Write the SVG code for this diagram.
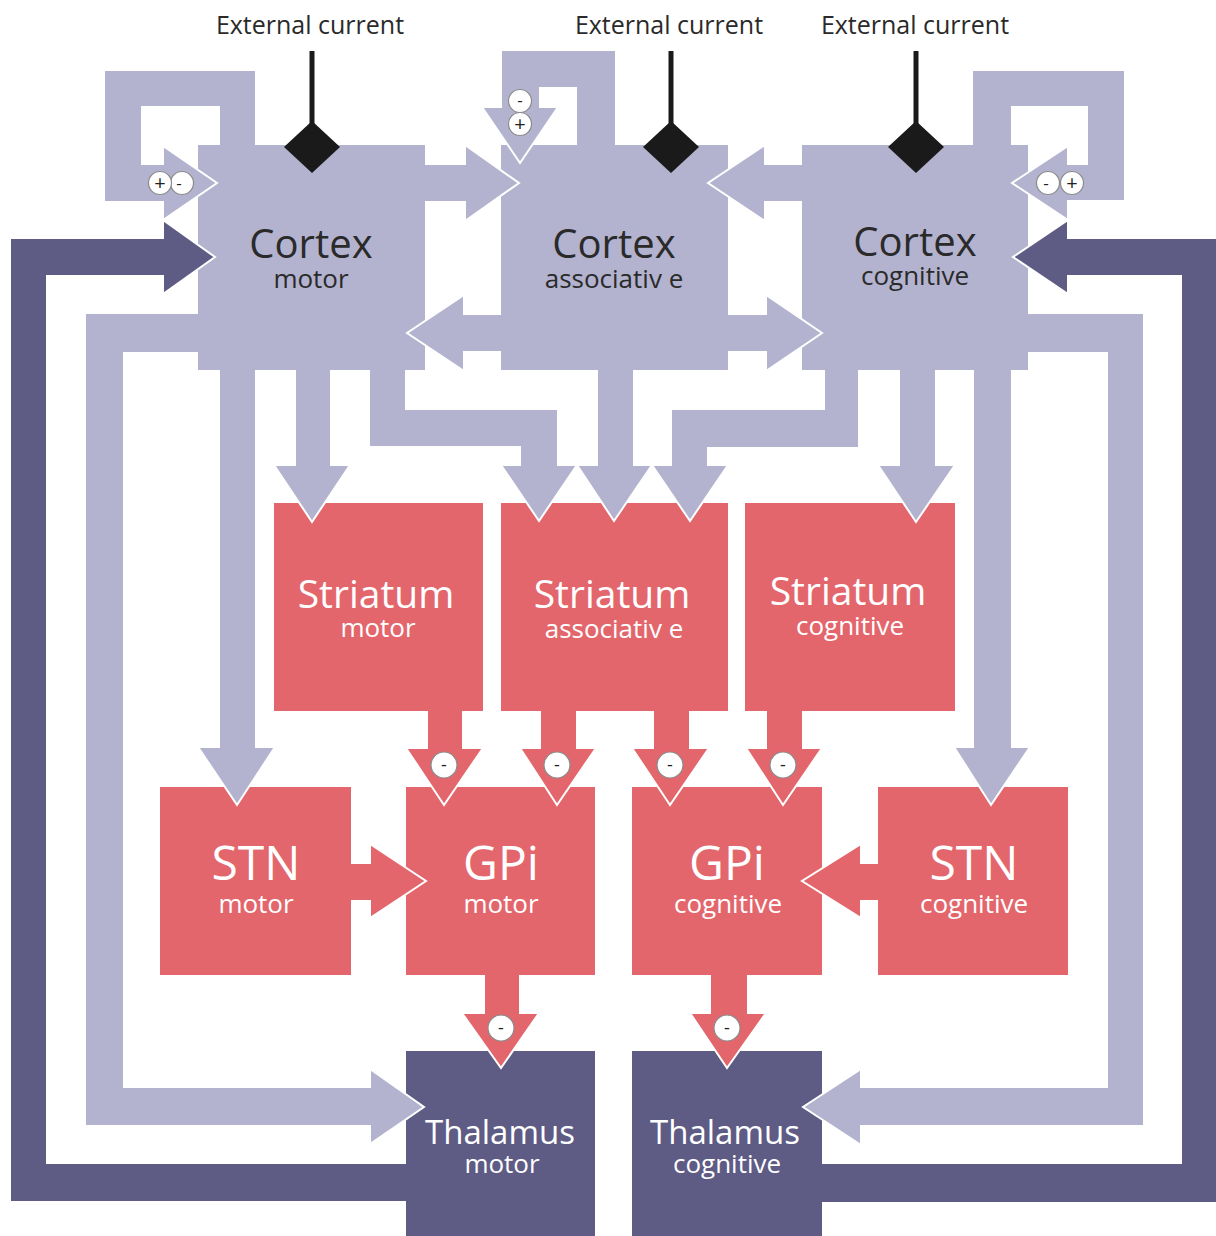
<svg xmlns="http://www.w3.org/2000/svg" width="1216" height="1236" viewBox="0 0 1216 1236">
<style>
.bg{fill:#ffffff}
.ctx{fill:#b3b3cf}
.red{fill:#e3666c}
.thal{fill:#5e5b85}
.aL{fill:#b3b3cf;stroke:#ffffff;stroke-width:2;stroke-linejoin:miter}
.aD{fill:#5e5b85;stroke:#ffffff;stroke-width:2;stroke-linejoin:miter}
.aR{fill:#e3666c;stroke:#ffffff;stroke-width:2;stroke-linejoin:miter}
.sig{fill:#ffffff;stroke:#8a8a8a;stroke-width:1.2}
.sigt{font-family:"Open Sans","Liberation Sans",sans-serif;fill:#222;text-anchor:middle}
.t1{font-family:"Open Sans","Liberation Sans",sans-serif;text-anchor:middle}
.dk{fill:#2a2a2a}
.wh{fill:#ffffff}
.ext{font-family:"Open Sans","Liberation Sans",sans-serif;font-size:25px;fill:#2a2a2a;text-anchor:middle}
.wire{stroke:#1a1a1a;stroke-width:5}
.dia{fill:#1a1a1a}
</style>
<rect class="bg" x="0" y="0" width="1216" height="1236"/>

<g id="cortex-motor">
<rect class="ctx" x="198" y="145" width="227" height="225"/>
<text class="t1 dk" x="311" y="258" font-size="40">Cortex</text>
<text class="t1 dk" x="311" y="288" font-size="26">motor</text>
</g>
<g id="cortex-associative">
<rect class="ctx" x="501" y="145" width="227" height="225"/>
<text class="t1 dk" x="614" y="258" font-size="40">Cortex</text>
<text class="t1 dk" x="614" y="288" font-size="26">associativ e</text>
</g>
<g id="cortex-cognitive">
<rect class="ctx" x="802" y="145" width="226" height="225"/>
<text class="t1 dk" x="915" y="256" font-size="40">Cortex</text>
<text class="t1 dk" x="915" y="285" font-size="26">cognitive</text>
</g>
<g id="striatum-motor">
<rect class="red" x="274" y="503" width="209" height="208"/>
<text class="t1 wh" x="376" y="608" font-size="39">Striatum</text>
<text class="t1 wh" x="378" y="637" font-size="26">motor</text>
</g>
<g id="striatum-associative">
<rect class="red" x="501" y="503" width="227" height="208"/>
<text class="t1 wh" x="612" y="608" font-size="39">Striatum</text>
<text class="t1 wh" x="614" y="638" font-size="26">associativ e</text>
</g>
<g id="striatum-cognitive">
<rect class="red" x="745" y="503" width="210" height="208"/>
<text class="t1 wh" x="848" y="605" font-size="39">Striatum</text>
<text class="t1 wh" x="850" y="635" font-size="26">cognitive</text>
</g>
<g id="stn-motor">
<rect class="red" x="160" y="787" width="191" height="188"/>
<text class="t1 wh" x="256" y="880" font-size="48">STN</text>
<text class="t1 wh" x="256" y="913" font-size="26">motor</text>
</g>
<g id="gpi-motor">
<rect class="red" x="406" y="787" width="189" height="188"/>
<text class="t1 wh" x="501" y="880" font-size="48">GPi</text>
<text class="t1 wh" x="501" y="913" font-size="26">motor</text>
</g>
<g id="gpi-cognitive">
<rect class="red" x="632" y="787" width="190" height="188"/>
<text class="t1 wh" x="727" y="880" font-size="48">GPi</text>
<text class="t1 wh" x="728" y="913" font-size="26">cognitive</text>
</g>
<g id="stn-cognitive">
<rect class="red" x="878" y="787" width="190" height="188"/>
<text class="t1 wh" x="974" y="880" font-size="48">STN</text>
<text class="t1 wh" x="974" y="913" font-size="26">cognitive</text>
</g>
<g id="thalamus-motor">
<rect class="thal" x="406" y="1051" width="189" height="185"/>
<text class="t1 wh" x="500" y="1144" font-size="33">Thalamus</text>
<text class="t1 wh" x="502" y="1173" font-size="26">motor</text>
</g>
<g id="thalamus-cognitive">
<rect class="thal" x="632" y="1051" width="190" height="185"/>
<text class="t1 wh" x="725" y="1144" font-size="33">Thalamus</text>
<text class="t1 wh" x="727" y="1173" font-size="26">cognitive</text>
</g>

<g id="connectors">
<!-- self loops -->
<path class="aL" d="M219,145 L219,107 L142,107 L142,164 L163,164 L163,146 L217,183 L163,220 L163,202 L104,202 L104,70 L256,70 L256,145"/>
<path class="aL" d="M576,145 L576,88 L540,88 L540,107 L558,107 L520,163 L482,107 L501,107 L501,50 L616,50 L616,145"/>
<path class="aL" d="M1012,145 L1012,107 L1087,107 L1087,164 L1068,164 L1068,146 L1012,183 L1068,220 L1068,201 L1125,201 L1125,70 L972,70 L972,145"/>
<!-- cortex to cortex -->
<path class="aL" d="M425,164 L465,164 L465,145 L519,183 L465,221 L465,202 L425,202"/>
<path class="aL" d="M802,164 L765,164 L765,145 L708,183 L765,221 L765,202 L802,202"/>
<path class="aL" d="M501,314 L464,314 L464,295 L407,333 L464,371 L464,352 L501,352"/>
<path class="aL" d="M728,314 L766,314 L766,295 L822,333 L766,371 L766,352 L728,352"/>
<!-- thalamus to cortex -->
<path class="aD" d="M406,1163 L47,1163 L47,276 L163,276 L163,294 L215,257 L163,220 L163,238 L10,238 L10,1202 L406,1202"/>
<path class="aD" d="M822,1163 L1181,1163 L1181,276 L1068,276 L1068,294 L1013,257 L1068,220 L1068,238 L1222,238 L1222,1203 L822,1203"/>
<!-- cortex to thalamus -->
<path class="aL" d="M198,313 L85,313 L85,1126 L370,1126 L370,1144 L424,1107 L370,1069 L370,1087 L124,1087 L124,353 L198,353"/>
<path class="aL" d="M1028,313 L1144,313 L1144,1126 L861,1126 L861,1145 L803,1107 L861,1069 L861,1087 L1107,1087 L1107,353 L1028,353"/>
<!-- cortex to STN / striatum -->
<path class="aL" d="M219,370 L219,747 L198,747 L237,805 L275,747 L256,747 L256,370"/>
<path class="aL" d="M295,370 L295,465 L274,465 L312,522 L350,465 L331,465 L331,370"/>
<path class="aL" d="M369,370 L369,447 L520,447 L520,465 L501,465 L539,521 L577,465 L558,465 L558,409 L406,409 L406,370"/>
<path class="aL" d="M597,370 L597,465 L577,465 L614,521 L652,465 L634,465 L634,370"/>
<path class="aL" d="M859,370 L859,448 L708,448 L708,465 L728,465 L690,521 L652,465 L671,465 L671,409 L824,409 L824,370"/>
<path class="aL" d="M899,370 L899,465 L878,465 L916,522 L955,465 L936,465 L936,370"/>
<path class="aL" d="M973,370 L973,747 L954,747 L991,805 L1030,747 L1012,747 L1012,370"/>
<!-- striatum to GPi -->
<path class="aR" d="M427,711 L427,748 L406,748 L444,805 L483,748 L463,748 L463,711"/>
<path class="aR" d="M540,711 L540,748 L520,748 L557,805 L596,748 L577,748 L577,711"/>
<path class="aR" d="M653,711 L653,748 L632,748 L670,805 L709,748 L690,748 L690,711"/>
<path class="aR" d="M766,711 L766,748 L746,748 L783,805 L822,748 L803,748 L803,711"/>
<!-- STN to GPi -->
<path class="aR" d="M351,863 L370,863 L370,844 L426,881 L370,918 L370,901 L351,901"/>
<path class="aR" d="M878,863 L861,863 L861,844 L802,881 L861,918 L861,901 L878,901"/>
<!-- GPi to thalamus -->
<path class="aR" d="M484,975 L484,1013 L462,1013 L501,1068 L539,1013 L520,1013 L520,975"/>
<path class="aR" d="M710,975 L710,1013 L690,1013 L727,1068 L766,1013 L748,1013 L748,975"/>

<!-- signs -->
<circle class="sig" cx="182" cy="183" r="11.5"/>
<text class="sigt" x="179" y="189" font-size="17">-</text>
<circle class="sig" cx="160" cy="183" r="11.5"/>
<text class="sigt" x="160" y="190" font-size="20">+</text>

<circle class="sig" cx="520" cy="101" r="11.5"/>
<text class="sigt" x="520" y="106" font-size="17">-</text>
<circle class="sig" cx="520" cy="124" r="11.5"/>
<text class="sigt" x="520" y="131" font-size="20">+</text>

<circle class="sig" cx="1048" cy="183" r="11.5"/>
<text class="sigt" x="1046" y="189" font-size="17">-</text>
<circle class="sig" cx="1072" cy="183" r="11.5"/>
<text class="sigt" x="1072" y="190" font-size="20">+</text>

<circle class="sig" cx="444" cy="765" r="13"/>
<text class="sigt" x="444" y="771" font-size="18">-</text>
<circle class="sig" cx="557" cy="765" r="13"/>
<text class="sigt" x="557" y="771" font-size="18">-</text>
<circle class="sig" cx="670" cy="765" r="13"/>
<text class="sigt" x="670" y="771" font-size="18">-</text>
<circle class="sig" cx="783" cy="765" r="13"/>
<text class="sigt" x="783" y="771" font-size="18">-</text>
<circle class="sig" cx="501" cy="1028" r="13"/>
<text class="sigt" x="501" y="1034" font-size="18">-</text>
<circle class="sig" cx="727" cy="1028" r="13"/>
<text class="sigt" x="727" y="1034" font-size="18">-</text>
</g>

<g id="external-motor">
<text class="ext" x="310" y="34">External current</text>
<line class="wire" x1="312" y1="51" x2="312" y2="124"/>
<polygon class="dia" points="312,121 340,147 312,173 284,147"/>
</g>
<g id="external-associative">
<text class="ext" x="669" y="34">External current</text>
<line class="wire" x1="671" y1="51" x2="671" y2="124"/>
<polygon class="dia" points="671,121 699,147 671,173 643,147"/>
</g>
<g id="external-cognitive">
<text class="ext" x="915" y="34">External current</text>
<line class="wire" x1="916" y1="51" x2="916" y2="124"/>
<polygon class="dia" points="916,121 944,147 916,173 888,147"/>
</g>
</svg>
